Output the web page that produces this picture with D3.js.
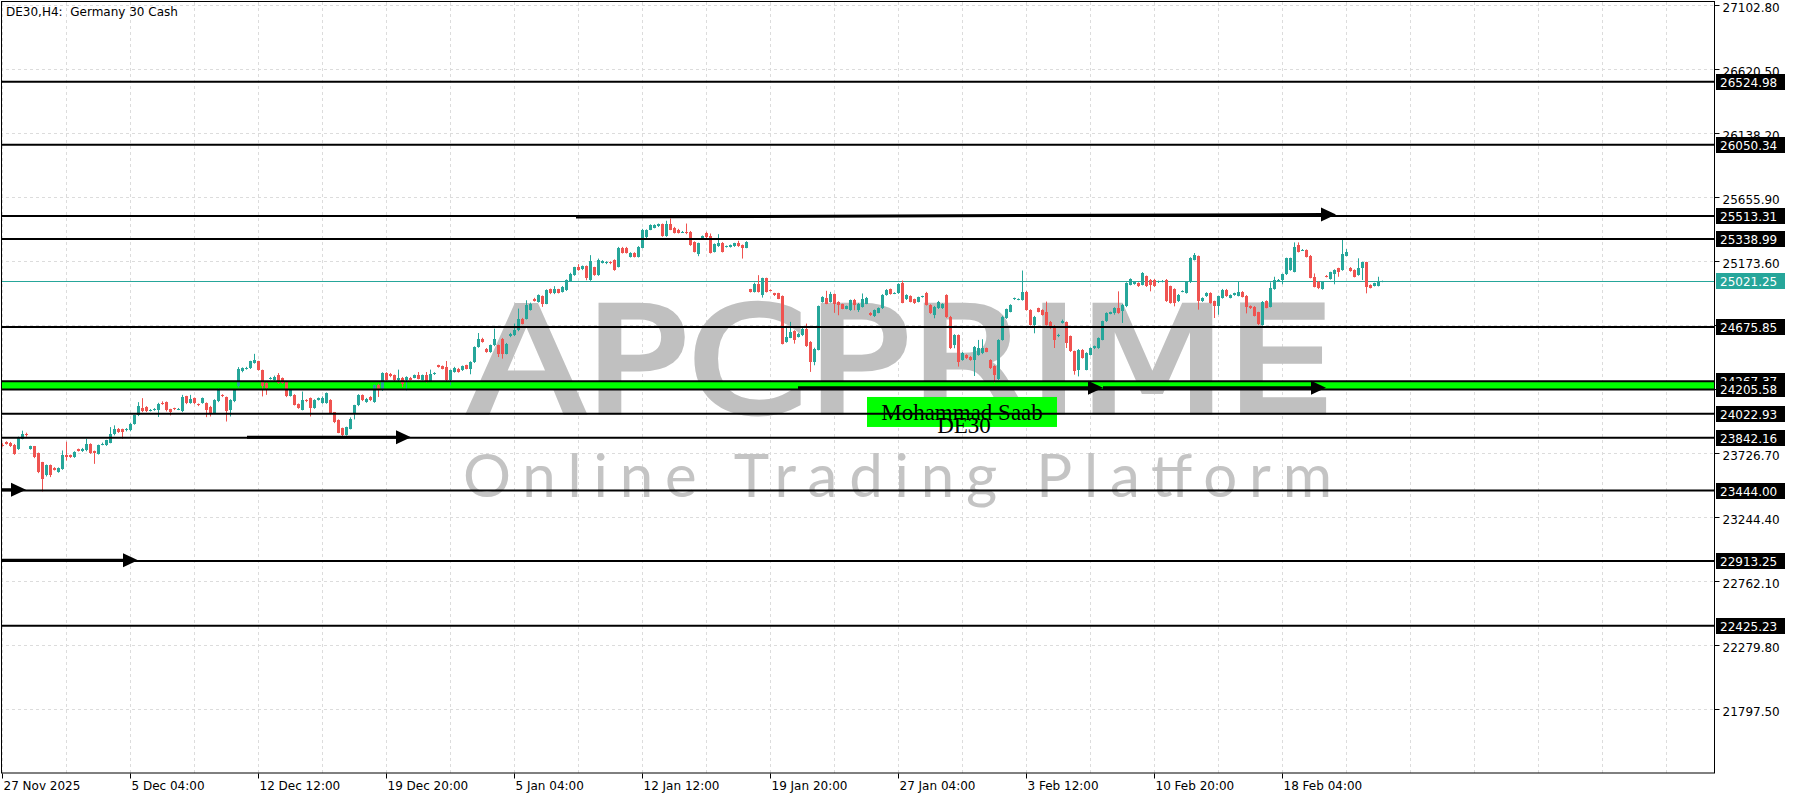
<!DOCTYPE html>
<html><head><meta charset="utf-8">
<script src="https://cdn.jsdelivr.net/npm/d3@7"></script>
<style>html,body{margin:0;padding:0;background:#fff;overflow:hidden}</style>
</head><body>
<svg id="chart" width="1800" height="800"></svg>
<script>
// ---------------- DATA ----------------
const chartTitle = "DE30,H4:  Germany 30 Cash";
const opens = [
23790,23809,23804,23789,23759,23834,23872,23759,23776,23728,
23658,23558,23633,23612,23583,23608,23710,23708,23696,23755,
23740,23746,23796,23740,23721,23790,23784,23804,23867,23910,
23905,23897,23897,23947,24010,24065,24072,24045,24048,24048,
24105,24110,24055,24063,24055,24040,24153,24102,24140,24095,
24102,24102,24077,24027,24115,24165,24148,24052,24115,24228,
24341,24360,24366,24404,24417,24349,24253,24285,24278,24316,
24291,24266,24158,24165,24097,24052,24127,24140,24065,24127,
24102,24102,24127,24032,23977,23914,23864,23910,24018,24086,
24161,24111,24149,24111,24242,24199,24330,24325,24312,24274,
24294,24274,24294,24294,24312,24279,24312,24269,24320,24387,
24380,24375,24279,24337,24362,24350,24387,24362,24412,24526,
24588,24513,24488,24538,24538,24588,24475,24606,24614,24651,
24739,24739,24808,24891,24866,24908,24853,24959,24929,24959,
24941,24954,25024,25067,25125,25110,25135,25029,25125,25067,
25160,25155,25167,25180,25130,25275,25275,25205,25235,25205,
25275,25351,25411,25426,25436,25451,25361,25451,25426,25411,
25392,25394,25394,25318,25230,25343,25381,25361,25243,25285,
25311,25280,25280,25285,25306,25293,25275,24959,24941,25004,
24916,25042,24954,24929,24929,24908,24564,24597,24647,24602,
24614,24665,24564,24413,24506,24866,24898,24866,24924,24866,
24848,24815,24803,24883,24803,24828,24853,24783,24758,24785,
24817,24918,24961,24928,24931,25011,24885,24910,24885,24868,
24903,24936,24843,24767,24817,24817,24918,24755,24541,24616,
24428,24466,24453,24428,24466,24478,24516,24428,24383,24282,
24579,24742,24792,24885,24883,24880,24943,24805,24692,24817,
24805,24792,24717,24681,24606,24707,24712,24606,24493,24355,
24505,24355,24468,24516,24518,24581,24719,24778,24782,24820,
24794,24832,24996,25000,25008,24996,25058,25033,25033,25013,
25018,25033,24983,24963,24870,24943,24933,25013,25184,25209,
24870,24908,24933,24870,24832,24895,24958,24897,24917,24912,
24942,24912,24834,24829,24786,24691,24872,24829,24962,25028,
25030,25073,25106,25093,25294,25254,25256,25214,25055,25018,
24962,25063,25038,25073,25118,25106,25214,25123,25106,25068,
25118,25163,24993,24987,24987,25018];
const highs = [
23800,23815,23810,23795,23850,23895,23880,23782,23780,23730,
23660,23640,23640,23620,23618,23746,23812,23715,23740,23760,
23765,23834,23800,23745,23790,23805,23826,23922,23935,23915,
23910,23915,23952,24015,24110,24140,24080,24058,24065,24105,
24116,24115,24060,24068,24066,24165,24158,24165,24145,24100,
24145,24108,24082,24132,24215,24170,24152,24132,24208,24374,
24372,24376,24422,24474,24422,24355,24260,24300,24310,24329,
24296,24270,24203,24170,24100,24190,24132,24145,24132,24145,
24153,24183,24132,24036,23980,23918,23925,23995,24090,24170,
24168,24142,24155,24242,24248,24335,24336,24330,24318,24355,
24300,24305,24300,24318,24337,24318,24337,24355,24336,24392,
24386,24420,24355,24376,24368,24386,24392,24418,24530,24631,
24595,24518,24544,24664,24544,24594,24556,24632,24702,24815,
24745,24878,24860,24896,24922,24914,24960,24966,24984,24964,
24985,25035,25085,25130,25150,25140,25140,25218,25130,25192,
25180,25172,25172,25186,25280,25280,25280,25240,25240,25286,
25416,25412,25450,25450,25456,25456,25477,25494,25431,25416,
25400,25456,25400,25322,25312,25366,25394,25381,25306,25376,
25316,25290,25298,25311,25326,25298,25323,24964,25010,25067,
25048,25048,24960,24934,24934,24914,24677,24715,24652,24632,
24670,24702,24570,24520,24838,24908,24949,24941,24929,24870,
24852,24838,24883,24888,24858,24929,24903,24788,24808,24824,
24924,24962,24966,24938,25006,25026,24923,24915,24890,24905,
24912,24941,24848,24835,24873,24855,24923,24760,24622,24620,
24488,24471,24458,24533,24579,24584,24521,24433,24388,24584,
24760,24815,24848,24898,24892,25102,24948,24810,24760,24822,
24810,24868,24722,24690,24625,24732,24718,24612,24498,24510,
24510,24486,24523,24536,24598,24724,24787,24792,24825,24945,
24850,25013,25043,25018,25013,25090,25064,25038,25038,25026,
25030,25038,24988,24968,24925,24953,25018,25202,25234,25215,
24900,24938,24938,24875,24913,24963,24963,24922,24935,25018,
24947,24917,24839,24834,24791,24872,24877,25013,25055,25038,
25078,25199,25199,25314,25314,25264,25261,25219,25080,25023,
25018,25068,25093,25111,25123,25332,25264,25128,25111,25194,
25168,25168,24998,25010,25055,25026];
const lows = [
23775,23790,23772,23713,23750,23830,23850,23752,23688,23575,
23437,23550,23545,23595,23578,23600,23670,23690,23690,23738,
23735,23740,23720,23645,23715,23785,23780,23800,23860,23878,
23834,23890,23890,23940,24005,24035,24035,24040,24045,23998,
24090,24040,24010,24050,24050,24035,24095,24098,24095,24080,
24098,23997,24002,24020,24110,24148,23964,24002,24110,24220,
24335,24355,24360,24400,24348,24153,24165,24280,24272,24248,
24248,24148,24152,24085,24060,24048,24110,24002,24060,24122,
24098,24098,24022,23952,23876,23851,23858,23905,23980,24080,
24118,24105,24118,24105,24149,24195,24274,24298,24268,24270,
24224,24199,24274,24290,24282,24274,24256,24262,24315,24370,
24357,24268,24237,24332,24332,24345,24357,24320,24405,24520,
24558,24482,24482,24532,24450,24438,24470,24600,24608,24645,
24696,24733,24800,24868,24860,24828,24848,24924,24924,24929,
24936,24948,25018,25062,25100,25105,25029,25024,25062,25062,
25155,25150,25150,25100,25125,25230,25230,25200,25200,25200,
25270,25346,25406,25420,25430,25356,25356,25406,25381,25381,
25388,25376,25288,25238,25210,25338,25346,25230,25238,25280,
25238,25275,25275,25280,25280,25192,25270,24936,24936,24936,
24898,24936,24945,24910,24886,24545,24558,24592,24551,24597,
24608,24526,24338,24388,24500,24860,24848,24860,24783,24765,
24810,24810,24798,24803,24790,24823,24848,24760,24752,24780,
24812,24912,24920,24924,24926,24855,24880,24862,24850,24862,
24898,24838,24775,24742,24812,24812,24745,24510,24516,24378,
24422,24435,24422,24307,24460,24472,24486,24360,24257,24277,
24574,24737,24787,24880,24878,24875,24800,24687,24629,24787,
24762,24687,24662,24518,24600,24702,24518,24488,24317,24304,
24438,24350,24462,24510,24512,24576,24714,24772,24769,24776,
24707,24826,24990,24995,24978,24990,24978,24945,24978,25008,
25013,24865,24852,24832,24865,24938,24928,25008,25178,24807,
24865,24903,24852,24744,24769,24890,24903,24892,24912,24907,
24899,24779,24812,24756,24691,24686,24817,24824,24957,25022,
24998,25068,25100,25088,25238,25250,25200,25043,24975,24962,
24957,25050,25033,24998,25055,25100,25209,25093,25050,25063,
25030,24930,24967,24982,24982,25014];
const closes = [
23785,23796,23779,23721,23847,23872,23860,23776,23696,23583,
23532,23633,23558,23600,23613,23713,23700,23696,23734,23745,
23759,23796,23728,23730,23784,23796,23821,23872,23910,23884,
23884,23910,23947,24010,24078,24040,24040,24050,24060,24098,
24098,24048,24035,24055,24060,24148,24102,24135,24102,24088,
24140,24052,24027,24127,24198,24153,24047,24127,24203,24359,
24366,24370,24417,24429,24354,24228,24215,24295,24303,24253,
24253,24153,24198,24090,24065,24127,24115,24065,24127,24140,
24140,24178,24027,23957,23881,23864,23921,23985,24086,24161,
24123,24136,24123,24237,24199,24330,24279,24304,24274,24294,
24249,24299,24279,24312,24287,24312,24262,24325,24330,24375,
24362,24274,24350,24370,24337,24380,24362,24412,24526,24588,
24563,24488,24538,24588,24475,24475,24551,24626,24656,24739,
24702,24840,24853,24873,24916,24853,24954,24929,24966,24934,
24979,25029,25079,25125,25105,25135,25042,25175,25067,25180,
25175,25167,25155,25105,25275,25235,25235,25235,25205,25280,
25411,25406,25444,25444,25451,25361,25456,25411,25386,25386,
25396,25381,25293,25243,25306,25361,25351,25235,25301,25306,
25243,25285,25293,25306,25285,25275,25318,24941,25004,24941,
25042,24941,24950,24916,24891,24551,24602,24639,24577,24627,
24665,24531,24413,24514,24833,24903,24853,24924,24848,24841,
24815,24833,24878,24841,24853,24891,24898,24765,24803,24818,
24918,24956,24926,24932,25001,24860,24918,24868,24855,24900,
24907,24843,24780,24830,24868,24850,24750,24516,24616,24415,
24483,24440,24428,24528,24516,24516,24491,24365,24315,24579,
24755,24810,24843,24893,24887,24943,24805,24692,24755,24792,
24767,24692,24667,24581,24619,24719,24556,24493,24342,24505,
24443,24480,24518,24531,24593,24719,24782,24786,24820,24782,
24845,25008,25038,25013,24983,25084,24983,24996,24983,25021,
25024,24870,24857,24857,24920,24948,25013,25197,25222,24870,
24895,24933,24857,24832,24908,24958,24908,24917,24930,24942,
24904,24829,24817,24761,24696,24867,24822,24967,25030,25032,
25073,25194,25194,25282,25244,25258,25206,25048,24980,24967,
25013,25055,25088,25106,25093,25224,25244,25098,25055,25123,
25163,24980,24972,25005,25023,25021.25];

const xTickBars = [0,32,64,96,128,160,192,224,256,288,320];
const xTickLabels = ["27 Nov 2025","5 Dec 04:00","12 Dec 12:00","19 Dec 20:00","5 Jan 04:00",
  "12 Jan 12:00","19 Jan 20:00","27 Jan 04:00","3 Feb 12:00","10 Feb 20:00","18 Feb 04:00"];
const yTickValues = [27102.80,26620.50,26138.20,25655.90,25173.60,24691.30,24209.00,
  23726.70,23244.40,22762.10,22279.80,21797.50];
const levelPrices = [26524.98,26050.34,25513.31,25338.99,24675.85,24267.37,24205.58,
  24022.93,23842.16,23444.00,22913.25,22425.23];
const zoneTop = 24267.37, zoneBottom = 24205.58;
const currentPrice = 25021.25;
// arrows: [fromBar, fromPrice], [toBar, toPrice]
const arrowFrom = [[143.5,25505],[61.25,23846],[-0.5,23450],[-0.5,22918],[199,24218],[275.25,24218]];
const arrowTo   = [[333.5,25524],[102.25,23846],[6,23450],[34,22918],[275.25,24218],[331,24218]];
// text label box: bars [left,right], prices [top,bottom]
const labelBars = [216.25, 263.75];
const labelPrices = [24149, 23923];
const labelText = "Mohammad Saab";
const labelTextAnchor = [240, 23975];
const symbolText = "DE30";
const symbolTextAnchor = [240.5, 23877];
const watermarkLogo = "APCPRIME";
const watermarkTag = "Online Trading Platform";

// ---------------- DRAW ----------------
const W = 1800, H = 800;
const PL = 0, PR = 1714, PT = 2, PB = 773;
const BULL = "#26a69a", BEAR = "#ef5350", FONT = "DejaVu Sans, sans-serif";

const x = d3.scaleLinear().domain([-0.5, 428]).range([PL, PR]);
const y = d3.scaleLinear().domain([21315.2, 27125.6]).range([PB, PT]);

const svg = d3.select("#chart");
svg.append("rect").attr("width", W).attr("height", H).attr("fill", "#fff");
const defs = svg.append("defs");
defs.append("clipPath").attr("id", "plot").append("rect")
  .attr("x", PL + 1).attr("y", PT).attr("width", PR - PL - 1).attr("height", PB - PT);

const plot = svg.append("g").attr("clip-path", "url(#plot)");

// grid
const gridBars = d3.range(0, 428, 16);
plot.append("g").selectAll("line").data(gridBars).join("line")
  .attr("x1", d => Math.round(x(d)) + 0.5).attr("x2", d => Math.round(x(d)) + 0.5)
  .attr("y1", PT).attr("y2", PB)
  .attr("stroke", "#dcdcdc").attr("stroke-dasharray", "3,3").attr("stroke-width", 1);
plot.append("g").selectAll("line").data(yTickValues).join("line")
  .attr("x1", PL).attr("x2", PR)
  .attr("y1", d => Math.round(y(d)) + 0.5).attr("y2", d => Math.round(y(d)) + 0.5)
  .attr("stroke", "#dcdcdc").attr("stroke-dasharray", "3,3").attr("stroke-width", 1);

// watermark
plot.append("text").text(watermarkLogo)
  .attr("x", 468).attr("y", 412)
  .attr("font-family", "DejaVu Sans, sans-serif").attr("font-weight", "normal")
  .attr("font-size", 146).attr("fill", "#c0c0c0")
  .attr("stroke", "#c0c0c0").attr("stroke-width", 5).attr("stroke-linejoin", "miter")
  .attr("textLength", 866).attr("lengthAdjust", "spacingAndGlyphs");
plot.append("text").text(watermarkTag)
  .attr("x", 463).attr("y", 497)
  .attr("font-family", "Lato, sans-serif").attr("font-weight", "normal")
  .attr("font-size", 60).attr("fill", "#c4c4c4")
  .attr("textLength", 869).attr("lengthAdjust", "spacing");

// text label box (green)
plot.append("rect")
  .attr("x", x(labelBars[0])).attr("y", y(labelPrices[0]))
  .attr("width", x(labelBars[1]) - x(labelBars[0]))
  .attr("height", y(labelPrices[1]) - y(labelPrices[0]))
  .attr("fill", "#00ff00");

// current price line
plot.append("line")
  .attr("x1", PL).attr("x2", PR)
  .attr("y1", Math.round(y(currentPrice)) + 0.5).attr("y2", Math.round(y(currentPrice)) + 0.5)
  .attr("stroke", BULL).attr("stroke-width", 1);

// green zone
plot.append("rect")
  .attr("x", PL).attr("width", PR - PL)
  .attr("y", y(zoneTop)).attr("height", y(zoneBottom) - y(zoneTop))
  .attr("fill", "#00ff00");

// candles
const n = Math.min(opens.length, highs.length, lows.length, closes.length);
const idx = d3.range(n);
const cg = plot.append("g");
cg.selectAll("line").data(idx).join("line")
  .attr("x1", i => Math.round(x(i)) + 0.5).attr("x2", i => Math.round(x(i)) + 0.5)
  .attr("y1", i => y(Math.max(highs[i], opens[i], closes[i])))
  .attr("y2", i => y(Math.min(lows[i], opens[i], closes[i])))
  .attr("stroke", i => closes[i] >= opens[i] ? BULL : BEAR).attr("stroke-width", 1);
cg.selectAll("rect").data(idx).join("rect")
  .attr("x", i => Math.round(x(i)) - 1).attr("width", 3)
  .attr("y", i => Math.round(y(Math.max(opens[i], closes[i]))))
  .attr("height", i => Math.max(1, Math.round(y(Math.min(opens[i], closes[i]))) - Math.round(y(Math.max(opens[i], closes[i])))))
  .attr("fill", i => closes[i] >= opens[i] ? BULL : BEAR);

// level lines
plot.append("g").selectAll("line").data(levelPrices).join("line")
  .attr("x1", PL).attr("x2", PR)
  .attr("y1", d => y(d)).attr("y2", d => y(d))
  .attr("stroke", "#000").attr("stroke-width", 2);

// arrows
const ag = plot.append("g");
arrowFrom.forEach((f, k) => {
  const t = arrowTo[k];
  const x1 = x(f[0]), y1 = y(f[1]), x2 = x(t[0]), y2 = y(t[1]);
  const dx = x2 - x1, dy = y2 - y1, len = Math.hypot(dx, dy);
  const ux = dx / len, uy = dy / len, hl = 15, hw = 7;
  const bx = x2 - ux * hl, by = y2 - uy * hl;
  ag.append("line").attr("x1", x1).attr("y1", y1).attr("x2", bx + ux * 2).attr("y2", by + uy * 2)
    .attr("stroke", "#000").attr("stroke-width", 3);
  ag.append("path")
    .attr("d", `M${x2},${y2}L${bx - uy * hw},${by + ux * hw}L${bx + uy * hw},${by - ux * hw}Z`)
    .attr("fill", "#000");
});

// label texts
plot.append("text").text(labelText)
  .attr("x", x(labelTextAnchor[0])).attr("y", y(labelTextAnchor[1]))
  .attr("text-anchor", "middle").attr("font-family", "Liberation Serif, Times New Roman, serif")
  .attr("font-size", 23).attr("fill", "#000");
plot.append("text").text(symbolText)
  .attr("x", x(symbolTextAnchor[0])).attr("y", y(symbolTextAnchor[1]))
  .attr("text-anchor", "middle").attr("font-family", "Liberation Serif, Times New Roman, serif")
  .attr("font-size", 23).attr("fill", "#000");

// frame
svg.append("rect").attr("x", PL + 1.5).attr("y", PT - 0.5).attr("width", PR - PL - 1)
  .attr("height", PB - PT + 0.5).attr("fill", "none").attr("stroke", "#000").attr("stroke-width", 1);

// title
svg.append("text").text(chartTitle).attr("x", 6).attr("y", 16)
  .attr("font-family", FONT).attr("font-size", 12).attr("fill", "#000")
  .style("white-space", "pre").attr("xml:space", "preserve");

// y axis
const yAxis = d3.axisRight(y).tickValues(yTickValues).tickSize(5).tickPadding(3)
  .tickFormat(d3.format(".2f"));
const yg = svg.append("g").attr("transform", `translate(${PR + 0.5},0)`).call(yAxis);
yg.select(".domain").remove();
yg.selectAll("text").attr("font-family", FONT).attr("font-size", 12).attr("fill", "#000")
  .attr("dy", "0.5em");
yg.selectAll("line").attr("stroke", "#000");

// x axis
const xAxis = d3.axisBottom(x).tickValues(xTickBars).tickSize(5).tickPadding(3)
  .tickFormat((d, i) => xTickLabels[i]);
const xg = svg.append("g").attr("transform", `translate(0,${PB + 0.5})`).call(xAxis);
xg.select(".domain").remove();
xg.selectAll("text").attr("font-family", FONT).attr("font-size", 12).attr("fill", "#000")
  .attr("text-anchor", "start").attr("dx", 1);
xg.selectAll(".tick").attr("transform", d => `translate(${Math.round(x(d)) + 0.5},0)`);
xg.selectAll("line").attr("stroke", "#000");

// price labels on the right
const lg = svg.append("g");
levelPrices.forEach(p => {
  const cy = y(p);
  lg.append("rect").attr("x", PR + 2).attr("y", Math.round(cy) - 8).attr("width", 69).attr("height", 16)
    .attr("fill", "#000");
  lg.append("text").text(d3.format(".2f")(p)).attr("x", PR + 6).attr("y", Math.round(cy) + 4.5)
    .attr("font-family", FONT).attr("font-size", 12).attr("fill", "#fff");
});
{
  const cy = y(currentPrice);
  lg.append("rect").attr("x", PR + 2).attr("y", Math.round(cy) - 8).attr("width", 69).attr("height", 16)
    .attr("fill", BULL);
  lg.append("text").text(d3.format(".2f")(currentPrice)).attr("x", PR + 6).attr("y", Math.round(cy) + 4.5)
    .attr("font-family", FONT).attr("font-size", 12).attr("fill", "#fff");
}
</script>
</body></html>
